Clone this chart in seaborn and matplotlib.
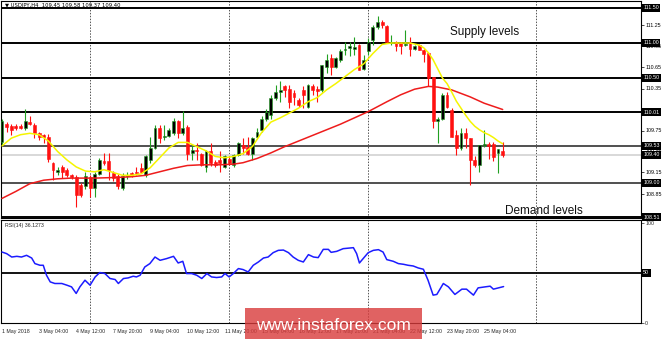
import numpy as np
import pandas as pd
import matplotlib
matplotlib.use('Agg')
import matplotlib.pyplot as plt
import matplotlib.transforms as mtransforms
from matplotlib.patches import Rectangle
import seaborn as sns

# ---------------- data ----------------
opens = [109.59, 109.85, 109.82, 109.82, 109.82, 109.78, 109.87, 109.83, 109.71, 109.69,
         109.66, 109.28, 109.16, 109.23, 109.19, 109.11, 109.09, 108.97, 108.96, 109.09,
         108.93, 109.13, 109.31, 109.31, 109.14, 109.10, 108.93, 109.10, 109.14, 109.16,
         109.21, 109.11, 109.33, 109.50, 109.78, 109.65, 109.67, 109.71, 109.88, 109.71,
         109.80, 109.43, 109.47, 109.42, 109.23, 109.45, 109.30, 109.33, 109.23, 109.35,
         109.26, 109.40, 109.54, 109.52, 109.42, 109.66, 109.76, 109.92, 109.97, 110.21,
         110.30, 110.38, 110.35, 110.28, 110.19, 110.33, 110.09, 110.38, 110.34, 110.33,
         110.66, 110.78, 110.66, 110.76, 110.90, 110.93, 110.92, 110.97, 110.63, 110.88,
         111.04, 111.23, 111.30, 111.24, 111.00, 111.02, 111.00, 110.97, 111.02, 110.92,
         110.97, 110.90, 110.85, 110.52, 109.88, 109.92, 110.26, 110.04, 109.69, 109.50,
         109.71, 109.64, 109.33, 109.26, 109.54, 109.56, 109.56, 109.43, 109.45]
highs = [109.92, 109.87, 109.84, 109.84, 109.84, 110.06, 109.95, 109.86, 109.73, 109.70,
         109.70, 109.30, 109.23, 109.26, 109.21, 109.13, 109.11, 109.00, 109.15, 109.12,
         109.16, 109.36, 109.43, 109.43, 109.17, 109.13, 109.14, 109.16, 109.16, 109.23,
         109.28, 109.40, 109.66, 109.83, 109.83, 109.83, 109.78, 109.93, 109.90, 110.03,
         109.83, 109.54, 109.57, 109.43, 109.47, 109.57, 109.33, 109.45, 109.40, 109.38,
         109.42, 109.59, 109.64, 109.66, 109.66, 109.78, 109.95, 110.06, 110.26, 110.40,
         110.45, 110.40, 110.40, 110.33, 110.21, 110.38, 110.42, 110.42, 110.38, 110.69,
         110.85, 110.85, 110.80, 110.92, 111.02, 111.02, 111.09, 110.99, 110.83, 111.07,
         111.25, 111.38, 111.33, 111.26, 111.12, 111.03, 111.01, 111.19, 111.09, 110.97,
         110.99, 110.91, 110.86, 110.52, 109.94, 110.28, 110.30, 110.07, 109.76, 109.78,
         109.78, 109.64, 109.38, 109.54, 109.76, 109.59, 109.59, 109.49, 109.58]
lows = [109.55, 109.73, 109.69, 109.76, 109.77, 109.76, 109.83, 109.64, 109.61, 109.57,
        109.30, 109.04, 109.11, 109.07, 109.08, 109.06, 108.66, 108.80, 108.92, 108.80,
        108.80, 109.12, 109.26, 109.05, 109.03, 108.91, 108.90, 109.06, 109.08, 109.11,
        109.14, 109.08, 109.28, 109.48, 109.57, 109.61, 109.66, 109.68, 109.64, 109.68,
        109.33, 109.33, 109.33, 109.25, 109.16, 109.25, 109.23, 109.16, 109.21, 109.26,
        109.23, 109.38, 109.42, 109.40, 109.33, 109.64, 109.73, 109.88, 109.92, 110.19,
        110.16, 110.23, 110.07, 110.11, 110.09, 110.07, 110.07, 110.26, 110.16, 110.30,
        110.57, 110.54, 110.64, 110.73, 110.83, 110.81, 110.83, 110.61, 110.61, 110.83,
        110.97, 111.20, 111.21, 111.00, 110.97, 110.88, 110.85, 110.95, 110.81, 110.90,
        110.90, 110.73, 110.38, 109.78, 109.57, 109.90, 110.07, 109.66, 109.40, 109.47,
        109.50, 108.97, 109.23, 109.16, 109.52, 109.35, 109.31, 109.14, 109.37]
closes = [109.88, 109.80, 109.76, 109.78, 109.79, 109.88, 109.84, 109.71, 109.66, 109.66,
          109.35, 109.19, 109.19, 109.16, 109.11, 109.09, 108.83, 108.83, 109.10, 108.93,
          109.13, 109.33, 109.28, 109.18, 109.07, 108.95, 109.10, 109.12, 109.11, 109.14,
          109.16, 109.38, 109.50, 109.78, 109.64, 109.67, 109.76, 109.88, 109.71, 109.78,
          109.42, 109.47, 109.45, 109.26, 109.45, 109.28, 109.26, 109.29, 109.38, 109.28,
          109.40, 109.57, 109.50, 109.42, 109.64, 109.73, 109.92, 110.02, 110.21, 110.30,
          110.33, 110.33, 110.16, 110.23, 110.12, 110.26, 110.40, 110.33, 110.31, 110.69,
          110.75, 110.66, 110.78, 110.88, 110.92, 110.96, 110.94, 110.61, 110.76, 111.02,
          111.23, 111.30, 111.25, 111.02, 111.02, 110.96, 110.95, 110.99, 110.91, 110.95,
          110.90, 110.85, 110.50, 109.88, 109.92, 110.26, 110.09, 109.66, 109.50, 109.71,
          109.64, 109.33, 109.26, 109.54, 109.55, 109.53, 109.37, 109.49, 109.40]

fast_ma_idx = [0, 2, 4, 6, 8, 10, 12, 14, 16, 18, 20, 22, 24, 26, 28, 30, 32, 34, 36, 38,
               40, 42, 44, 46, 48, 50, 52, 54, 56, 58, 60, 62, 64, 66, 68, 70, 72, 74, 76, 78,
               80, 82, 84, 86, 88, 90, 91, 92, 93, 94, 95, 96, 97, 98, 99, 100, 101, 102, 103,
               104, 105, 106, 107, 108]
fast_ma_val = [109.53, 109.64, 109.69, 109.71, 109.69, 109.60, 109.45, 109.33, 109.23, 109.17,
               109.16, 109.19, 109.15, 109.11, 109.11, 109.13, 109.22, 109.36, 109.50, 109.58,
               109.58, 109.52, 109.46, 109.38, 109.36, 109.38, 109.42, 109.52, 109.72, 109.87,
               109.93, 110.00, 110.07, 110.16, 110.22, 110.33, 110.42, 110.52, 110.62, 110.70,
               110.85, 110.98, 111.00, 111.00, 111.00, 110.97, 110.93, 110.86, 110.76, 110.63,
               110.50, 110.42, 110.30, 110.17, 110.07, 109.97, 109.88, 109.81, 109.76, 109.72,
               109.69, 109.65, 109.60, 109.56]

slow_ma_idx = [0, 3, 6, 9, 12, 15, 20, 25, 28, 31, 34, 37, 40, 43, 47, 50, 52, 55, 58, 61,
               64, 67, 70, 73, 76, 79, 83, 86, 89, 92, 94, 97, 101, 104, 108]
slow_ma_val = [108.78, 108.88, 108.99, 109.04, 109.06, 109.07, 109.07, 109.08, 109.09, 109.11,
               109.16, 109.21, 109.25, 109.26, 109.26, 109.27, 109.29, 109.35, 109.43, 109.52,
               109.60, 109.68, 109.76, 109.84, 109.93, 110.02, 110.16, 110.26, 110.34, 110.38,
               110.37, 110.33, 110.23, 110.14, 110.05]

rsi_idx = [0.0, 1.0, 2.1, 3.2, 4.2, 5.3, 6.4, 7.1, 8.2, 8.9, 9.6, 10.4, 11.4, 12.9, 14.0,
           15.0, 16.0, 16.8, 17.9, 19.0, 20.1, 21.1, 22.2, 23.3, 24.4, 25.1, 26.2, 27.2,
           28.3, 29.0, 29.8, 30.8, 31.9, 33.0, 34.1, 35.5, 37.0, 38.0, 39.0, 39.8, 40.9,
           42.0, 43.1, 44.2, 45.2, 46.3, 47.4, 48.1, 49.0, 49.9, 51.0, 52.0, 53.1, 54.2,
           55.3, 56.4, 57.4, 58.5, 59.6, 60.7, 61.8, 62.8, 63.9, 65.0, 66.1, 67.2, 68.2,
           69.3, 70.4, 71.0, 72.2, 73.6, 75.8, 76.5, 77.1, 77.9, 79.0, 80.1, 81.2, 82.2,
           83.0, 84.4, 85.5, 86.6, 87.6, 88.7, 89.8, 90.9, 91.9, 93.0, 93.8, 95.2, 96.3,
           97.7, 99.2, 100.2, 101.7, 102.7, 104.2, 105.3, 106.0, 107.1, 108.2]
rsi_val = [70.8, 69.2, 65.8, 66.5, 65.8, 67.5, 64.8, 59.2, 57.5, 57.5, 47.5, 40.8, 39.2,
           39.2, 37.5, 35.8, 29.2, 35.8, 42.5, 37.5, 45.8, 50.2, 49.2, 44.2, 43.2, 39.2,
           44.2, 44.8, 46.5, 45.8, 47.5, 55.8, 59.2, 65.8, 62.5, 64.2, 66.5, 59.8, 61.5,
           49.2, 49.2, 47.5, 44.2, 49.2, 45.8, 45.2, 45.8, 49.2, 45.8, 49.2, 54.2, 53.2,
           50.8, 57.5, 60.8, 64.8, 65.8, 70.2, 72.5, 72.8, 70.2, 65.8, 62.5, 60.8, 68.2,
           65.8, 65.2, 73.5, 73.5, 70.5, 71.5, 74.2, 75.2, 69.2, 59.8, 64.2, 70.2, 72.5,
           73.2, 70.8, 63.2, 61.5, 59.2, 58.5, 57.5, 56.8, 54.8, 53.5, 42.5, 27.5, 28.2,
           39.2, 35.8, 28.2, 33.5, 33.5, 27.5, 34.8, 35.8, 36.5, 33.5, 34.8, 36.1]

level_vals = [111.50, 111.00, 110.50, 110.01, 109.53, 109.00, 108.51]
level_labels = ['111.50', '111.00', '110.50', '110.01', '109.53', '109.00', '108.51']
level_kind = ['major', 'major', 'major', 'major', 'minor', 'minor', 'major']
bid_val = 109.40
bid_label = '109.40'
price_ticks = [111.25, 110.95, 110.65, 110.35, 110.05, 109.75, 109.45, 109.15, 108.85]
time_tick_idx = [0, 8, 16, 24, 32, 40, 48, 56, 64, 72, 80, 88, 96, 104]
time_tick_labels = ['1 May 2018', '3 May 04:00', '4 May 12:00', '7 May 20:00', '9 May 04:00',
                    '10 May 12:00', '11 May 20:00', '15 May 04:00', '16 May 12:00',
                    '17 May 20:00', '21 May 04:00', '22 May 12:00', '23 May 20:00',
                    '25 May 04:00']
week_sep_idx = [19, 49, 79, 115.2]
rsi_level = 50
header_text = '\u25bc USDJPY,H4  109.45 109.58 109.37 109.40'
rsi_text = 'RSI(14) 36.1273'

# ---------------- style ----------------
sns.set_style('white')
plt.rcParams['font.family'] = ['Liberation Sans', 'DejaVu Sans']

W, H = 665, 339
fig = plt.figure(figsize=(W / 100, H / 100), dpi=100)
ax = fig.add_axes([1 / W, 1 - 218 / H, 640 / W, 217 / H])
axr = fig.add_axes([1 / W, 1 - 323 / H, 640 / W, 103 / H])

xlim = (-0.216, 137.84)
for a in (ax, axr):
    a.set_xlim(*xlim)
    for s in a.spines.values():
        s.set_color('black')
        s.set_linewidth(0.8)
    for v in week_sep_idx:
        a.axvline(v, color='#555555', lw=0.7, ls=(0, (1.5, 1.5)), zorder=1)

ax.set_ylim(108.50, 111.60)
axr.set_ylim(-0.5, 103.0)

# horizontal levels
for v, k in zip(level_vals, level_kind):
    ax.axhline(v, color='black' if k == 'major' else '#505050', lw=1.4, zorder=1.5)
ax.axhline(bid_val, color='#d8d8d8', lw=1.4, zorder=1.2)

# candles
df = pd.DataFrame({'o': opens, 'h': highs, 'l': lows, 'c': closes})
df['i'] = np.arange(len(df))
up = df['c'] >= df['o']
green = '#22a022'
red = '#ff1010'
ax.vlines(df['i'][up], df['l'][up], df['h'][up], colors=green, lw=0.8, zorder=3)
ax.vlines(df['i'][~up], df['l'][~up], df['h'][~up], colors=red, lw=0.8, zorder=3)
body_h = (df['c'] - df['o']).abs().clip(lower=0.004)
body_b = df[['o', 'c']].min(axis=1)
ax.bar(df['i'][up], body_h[up], bottom=body_b[up], width=0.62, color='black',
       edgecolor=green, linewidth=0.4, zorder=3.2)
ax.bar(df['i'][~up], body_h[~up], bottom=body_b[~up], width=0.62, color=red,
       edgecolor=red, linewidth=0.4, zorder=3.2)

# moving averages
sns.lineplot(x=slow_ma_idx, y=slow_ma_val, ax=ax, color='#ee1c1c', lw=1.1, zorder=4)
sns.lineplot(x=fast_ma_idx, y=fast_ma_val, ax=ax, color='#f5f500', lw=1.1, zorder=4.1)

# right axis ticks
ax.yaxis.tick_right()
ax.set_yticks(price_ticks)
ax.set_yticklabels([f'{v:.2f}' for v in price_ticks])
ax.tick_params(axis='y', labelsize=3.8, length=2, width=0.5, pad=1, colors='black')
ax.set_xticks([])

trans = mtransforms.blended_transform_factory(ax.transAxes, ax.transData)
for v, lab in list(zip(level_vals, level_labels)) + [(bid_val, bid_label)]:
    ax.text(1.0035, v, lab, transform=trans, color='white', fontsize=3.8, va='center',
            ha='left', clip_on=False, zorder=6,
            bbox=dict(boxstyle='square,pad=0.25', fc='black', ec='none'))

ax.text(4 / 640, 1 - 5 / 217, header_text, transform=ax.transAxes, fontsize=3.8,
        va='center', ha='left', color='black', zorder=7,
        family=['DejaVu Sans'])

fig.text(450 / W, 1 - 32 / H, 'Supply levels', fontsize=8.5, color='#111111',
         va='center', ha='left')
fig.text(505 / W, 1 - 211 / H, 'Demand levels', fontsize=8.5, color='#111111',
         va='center', ha='left')

# RSI panel
axr.axhline(rsi_level, color='black', lw=1.3, zorder=1.5)
sns.lineplot(x=rsi_idx, y=rsi_val, ax=axr, color='#1c1cff', lw=1.1, zorder=4)
axr.yaxis.tick_right()
axr.set_yticks([100, 0])
axr.set_yticklabels(['100', '0'])
axr.tick_params(axis='y', labelsize=3.8, length=2, width=0.5, pad=1)
trans_r = mtransforms.blended_transform_factory(axr.transAxes, axr.transData)
axr.text(1.0035, rsi_level, str(rsi_level), transform=trans_r, color='white', fontsize=3.8,
         va='center', ha='left', clip_on=False, zorder=6,
         bbox=dict(boxstyle='square,pad=0.25', fc='black', ec='none'))
axr.text(4 / 640, 1 - 5 / 103, rsi_text, transform=axr.transAxes, fontsize=3.8,
         va='center', ha='left')

axr.set_xticks(time_tick_idx)
axr.set_xticklabels(time_tick_labels)
axr.tick_params(axis='x', labelsize=3.8, length=2, width=0.5, pad=2.2, direction='out')
for t in axr.get_xticklabels():
    t.set_ha('left')
axr.set_xlabel('')
axr.set_ylabel('')
ax.set_xlabel('')
ax.set_ylabel('')

# watermark
fig.patches.append(Rectangle((245 / W, 0), (422 - 245) / W, 31 / H, transform=fig.transFigure,
                             fc='#d93b3b', ec='none', alpha=0.8, zorder=5))
fig.text(333 / W, 1 - 325 / H, 'www.instaforex.com', color='white', fontsize=12.5,
         ha='center', va='center', zorder=6)

fig.savefig('out.png', dpi=100)
